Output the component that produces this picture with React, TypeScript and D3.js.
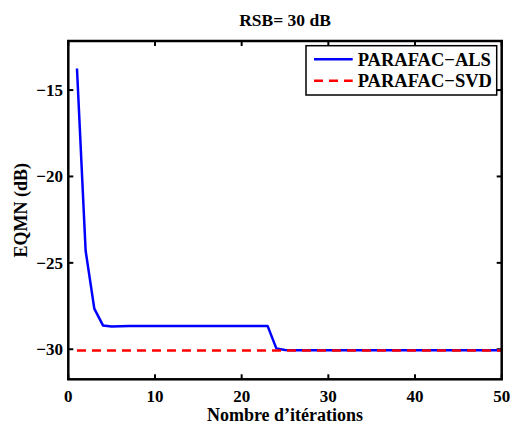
import React from "react";
import * as d3 from "d3";

const iterations = Array.from({ length: 50 }, (_, i) => i + 1);
const alsValues = [
  -13.75, -24.3, -27.65, -28.62, -28.69, -28.67, -28.66, -28.66, -28.66, -28.66,
  -28.66, -28.66, -28.66, -28.66, -28.66, -28.66, -28.66, -28.66, -28.66, -28.66,
  -28.66, -28.66, -28.66, -29.95, -30.05, -30.06, -30.06, -30.06, -30.06, -30.06,
  -30.06, -30.06, -30.06, -30.06, -30.06, -30.06, -30.06, -30.06, -30.06, -30.06,
  -30.06, -30.06, -30.06, -30.06, -30.06, -30.06, -30.06, -30.06, -30.06, -30.06,
];
const svdValue = -30.08;
const xTicks = [0, 10, 20, 30, 40, 50];
const yTicks = [-15, -20, -25, -30];
const seriesNames = ["PARAFAC\u2212ALS", "PARAFAC\u2212SVD"];
const titleText = "RSB= 30 dB";
const xLabel = "Nombre d\u2019it\u00e9rations";
const yLabel = "EQMN (dB)";

const W = 512, H = 426;
const L = 68.3, R = 501.7, T = 41, B = 379.3;
const font = "'Liberation Serif', 'Times New Roman', serif";

export default function App() {
  const x = d3.scaleLinear().domain([0, 50]).range([L, R]);
  const y = d3.scaleLinear().domain([-31.74, -12.16]).range([B, T]);
  const line = d3.line<number>().x((_, i) => x(iterations[i])).y((d) => y(d));
  const alsPath = line(alsValues) || "";
  const svdPath = d3.line<number>().x((d) => x(d)).y(() => y(svdValue))([iterations[0], iterations[iterations.length - 1]]) || "";
  const tl = 5;
  return (
    <svg width={W} height={H} style={{ position: "absolute", left: 0, top: 0, background: "#fff" }}
      fontFamily={font} fontWeight="bold">
      <rect x={0} y={0} width={W} height={H} fill="#fff" />
      <text x={(L + R) / 2} y={26} textAnchor="middle" fontSize={17.5}>{titleText}</text>
      {xTicks.map((t) => (
        <g key={"x" + t}>
          <line x1={x(t)} x2={x(t)} y1={B} y2={B - tl} stroke="#000" strokeWidth={2} />
          <line x1={x(t)} x2={x(t)} y1={T} y2={T + tl} stroke="#000" strokeWidth={2} />
          <text x={x(t)} y={401.5} textAnchor="middle" fontSize={17}>{t}</text>
        </g>
      ))}
      {yTicks.map((t) => (
        <g key={"y" + t}>
          <line x1={L} x2={L + tl} y1={y(t)} y2={y(t)} stroke="#000" strokeWidth={2} />
          <line x1={R} x2={R - tl} y1={y(t)} y2={y(t)} stroke="#000" strokeWidth={2} />
          <text x={63} y={y(t) + 6} textAnchor="end" fontSize={17}>{"\u2212" + Math.abs(t)}</text>
        </g>
      ))}
      <path d={alsPath} fill="none" stroke="#0000ff" strokeWidth={2.5} strokeLinejoin="round" />
      <path d={svdPath} fill="none" stroke="#ff0000" strokeWidth={2.5} strokeDasharray="9,6" />
      <rect x={L} y={T} width={R - L} height={B - T} fill="none" stroke="#000" strokeWidth={2.5} />
      <g>
        <rect x={306} y={45.7} width={190.7} height={49.3} fill="#fff" stroke="#000" strokeWidth={1.5} />
        <line x1={314} x2={352.7} y1={59.3} y2={59.3} stroke="#0000ff" strokeWidth={2.5} />
        <line x1={314} x2={352.7} y1={80.7} y2={80.7} stroke="#ff0000" strokeWidth={2.5} strokeDasharray="9,6" />
        <text x={357.7} y={65.5} fontSize={18.5}>{seriesNames[0]}</text>
        <text x={357.7} y={87} fontSize={18.5}>{seriesNames[1]}</text>
      </g>
      <text x={(L + R) / 2} y={420.5} textAnchor="middle" fontSize={18}>{xLabel}</text>
      <text transform={`translate(27,${(T + B) / 2}) rotate(-90)`} textAnchor="middle" fontSize={18}>{yLabel}</text>
    </svg>
  );
}
